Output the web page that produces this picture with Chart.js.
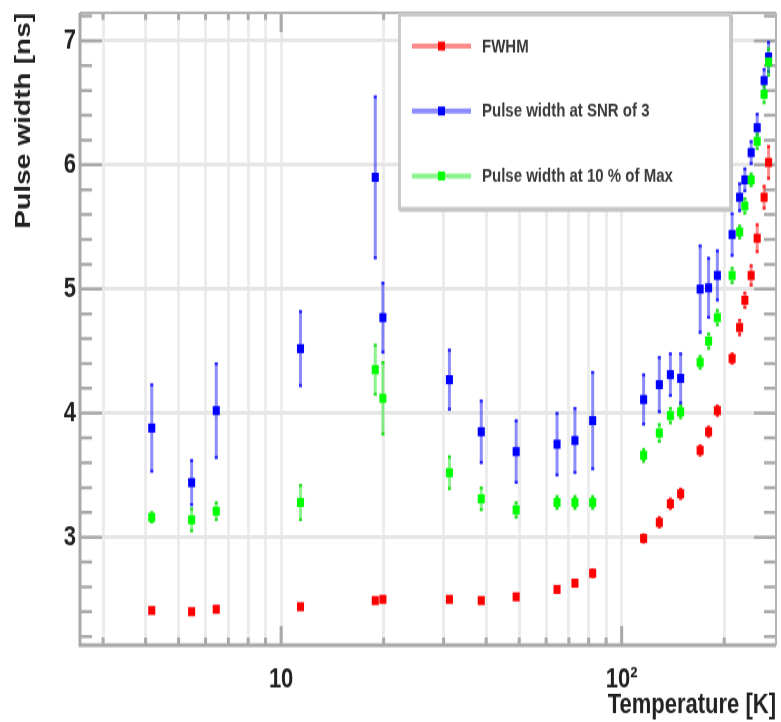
<!DOCTYPE html>
<html>
<head>
<meta charset="utf-8">
<title>Pulse width vs temperature</title>
<script src="https://cdn.jsdelivr.net/npm/chart.js@4/dist/chart.umd.min.js"></script>
<style>
  html, body { margin: 0; padding: 0; background: #fff; }
  body { width: 781px; height: 722px; }
  /* the plot is laid out on a 781x564 canvas and stretched vertically to 722 px */
  #wrap { width: 781px; height: 564px; transform: scaleY(1.28014); transform-origin: 0 0; }
  canvas { display: block; }
</style>
</head>
<body>
<div id="wrap"><canvas id="c" width="781" height="564"></canvas></div>
<script>
// Temperatures of the measurements [K]
const temperatures = [4.17, 5.46, 6.45, 11.4, 18.9, 19.9, 31.2, 38.7, 49.0, 64.6, 72.9, 82.2,
                      116, 129, 139, 149, 170, 180, 191, 211, 222, 230, 240, 250, 262, 270];

// FWHM [ns]
const fwhm    = [2.41, 2.40, 2.42, 2.44, 2.49, 2.50, 2.50, 2.49, 2.52, 2.58, 2.63, 2.71,
                 2.99, 3.12, 3.27, 3.35, 3.70, 3.85, 4.02, 4.44, 4.69, 4.91, 5.11, 5.41, 5.74, 6.02];
const fwhmErr = [0.03, 0.03, 0.03, 0.03, 0.03, 0.03, 0.03, 0.03, 0.03, 0.03, 0.03, 0.04,
                 0.04, 0.05, 0.05, 0.05, 0.05, 0.05, 0.05, 0.05, 0.07, 0.07, 0.09, 0.12, 0.10, 0.14];

// Pulse width at SNR of 3 [ns]
const snr3    = [3.88, 3.44, 4.02, 4.52, 5.90, 4.77, 4.27, 3.85, 3.69, 3.75, 3.78, 3.94,
                 4.11, 4.23, 4.31, 4.28, 5.00, 5.01, 5.11, 5.44, 5.74, 5.88, 6.10, 6.30, 6.68, 6.87];
const snr3Err = [0.36, 0.19, 0.39, 0.31, 0.66, 0.29, 0.25, 0.26, 0.26, 0.26, 0.27, 0.40,
                 0.21, 0.23, 0.18, 0.21, 0.36, 0.25, 0.21, 0.18, 0.12, 0.10, 0.10, 0.12, 0.10, 0.13];

// Pulse width at 10 % of the maximum [ns]
const tenPct    = [3.16, 3.14, 3.21, 3.28, 4.35, 4.12, 3.52, 3.31, 3.22, 3.28, 3.28, 3.28,
                   3.66, 3.84, 3.98, 4.01, 4.41, 4.58, 4.77, 5.11, 5.46, 5.67, 5.88, 6.19, 6.57, 6.83];
const tenPctErr = [0.05, 0.10, 0.08, 0.15, 0.21, 0.30, 0.14, 0.10, 0.07, 0.06, 0.06, 0.06,
                   0.06, 0.08, 0.07, 0.06, 0.06, 0.07, 0.07, 0.07, 0.06, 0.07, 0.06, 0.07, 0.08, 0.12];

const seriesNames = ['FWHM', 'Pulse width at SNR of 3', 'Pulse width at 10 % of Max'];

// Axis ticks
const xTicks = [3, 4, 5, 6, 7, 8, 9, 10, 20, 30, 40, 50, 60, 70, 80, 90, 100, 200];
const xMajor = [10, 100];
const xTickLabels = ['10', '10²'];
const yTicks = [2.2, 2.4, 2.6, 2.8, 3.0, 3.2, 3.4, 3.6, 3.8, 4.0, 4.2, 4.4, 4.6, 4.8,
                5.0, 5.2, 5.4, 5.6, 5.8, 6.0, 6.2, 6.4, 6.6, 6.8, 7.0, 7.2];
const yTickLabels = ['3', '4', '5', '6', '7'];

const FONT = "'Liberation Sans', Arial, Helvetica, sans-serif";
const isWhole = v => Math.abs(v - Math.round(v)) < 1e-6;

function points(values) {
  return temperatures.map((t, i) => ({ x: t, y: values[i] }));
}

// vertical error bars, drawn under the markers
const errorBars = {
  id: 'errorBars',
  beforeDatasetsDraw(chart) {
    const ctx = chart.ctx;
    const ys = chart.scales.y;
    ctx.save();
    chart.data.datasets.forEach((ds, di) => {
      const meta = chart.getDatasetMeta(di);
      meta.data.forEach((el, i) => {
        const v = ds.data[i].y, e = ds.errors[i];
        const top = ys.getPixelForValue(v + e);
        const bot = ys.getPixelForValue(v - e);
        ctx.strokeStyle = ds.barColor;
        ctx.lineWidth = 3;
        ctx.beginPath();
        ctx.moveTo(el.x, top);
        ctx.lineTo(el.x, bot);
        ctx.stroke();
        ctx.fillStyle = ds.capColor;
        ctx.fillRect(el.x - 1.5, top, 3, 2.5);
        ctx.fillRect(el.x - 1.5, bot - 2.5, 3, 2.5);
      });
    });
    ctx.restore();
  }
};

// frame lines and inward tick marks on all four sides
const frame = {
  id: 'frame',
  beforeDatasetsDraw(chart) {
    const { ctx, chartArea: a, scales: { x, y } } = chart;
    ctx.save();
    ctx.strokeStyle = '#a9a9a9';
    ctx.lineWidth = 3;
    xTicks.forEach(v => {
      const px = x.getPixelForValue(v);
      const big = xMajor.includes(v);
      const lb = big ? 15 : 6, lt = big ? 15 : 5.5;
      ctx.beginPath();
      ctx.moveTo(px, a.bottom); ctx.lineTo(px, a.bottom - lb);
      ctx.moveTo(px, a.top); ctx.lineTo(px, a.top + lt);
      ctx.stroke();
    });
    ctx.lineWidth = 2.5;
    yTicks.forEach(v => {
      const py = y.getPixelForValue(v);
      const len = isWhole(v) ? 22 : 12;
      ctx.beginPath();
      ctx.moveTo(a.left, py); ctx.lineTo(a.left + len, py);
      ctx.moveTo(a.right, py); ctx.lineTo(a.right - len, py);
      ctx.stroke();
    });
    // frame
    ctx.lineWidth = 3;
    ctx.strokeStyle = '#a9a9a9';
    ctx.beginPath();
    ctx.moveTo(a.left, a.top); ctx.lineTo(a.left, a.bottom);
    ctx.moveTo(a.left - 1.5, a.bottom); ctx.lineTo(a.right, a.bottom);
    ctx.stroke();
    ctx.lineWidth = 2;
    ctx.strokeStyle = '#b3b3b3';
    ctx.beginPath();
    ctx.moveTo(a.left, a.top); ctx.lineTo(a.right, a.top);
    ctx.moveTo(a.right, a.top); ctx.lineTo(a.right, a.bottom);
    ctx.stroke();
    ctx.restore();
  }
};

// boxed legend in the upper part of the frame
const legendBox = {
  id: 'legendBox',
  afterDatasetsDraw(chart) {
    const ctx = chart.ctx;
    const bx = 399.5, by = 11.5, bw = 331, bh = 151.5;
    ctx.save();
    ctx.fillStyle = '#ffffff';
    ctx.fillRect(bx, by, bw, bh);
    ctx.strokeStyle = '#cacaca';
    ctx.lineWidth = 3;
    ctx.strokeRect(bx, by, bw, bh);
    ctx.strokeStyle = '#c4c4c4';
    ctx.lineWidth = 2;
    ctx.beginPath();
    ctx.moveTo(bx, by + bh + 1.5); ctx.lineTo(bx + bw + 1.5, by + bh + 1.5);
    ctx.lineTo(bx + bw + 1.5, by);
    ctx.stroke();
    const rows = [36, 86.7, 137.5];
    chart.data.datasets.forEach((ds, i) => {
      const yy = rows[i];
      ctx.strokeStyle = ds.barColor;
      ctx.lineWidth = 4;
      ctx.beginPath();
      ctx.moveTo(412, yy); ctx.lineTo(471, yy);
      ctx.stroke();
      ctx.fillStyle = ds.backgroundColor;
      ctx.fillRect(441.5 - 3.5, yy - 3.5, 7, 7);
      ctx.fillStyle = '#3a3a3a';
      ctx.font = 'bold 15px ' + FONT;
      ctx.textAlign = 'left';
      ctx.textBaseline = 'middle';
      ctx.fillText(ds.label, 482, yy + 0.5);
    });
    ctx.restore();
  }
};

function series(label, values, errors, solid, bar, cap, order) {
  return {
    label, data: points(values), errors,
    backgroundColor: solid, borderColor: solid,
    barColor: bar, capColor: cap,
    pointStyle: 'rect', pointRadius: 5, pointBorderWidth: 0,
    pointHoverRadius: 5, showLine: false, order
  };
}

new Chart(document.getElementById('c'), {
  type: 'scatter',
  data: {
    datasets: [
      series(seriesNames[0], fwhm, fwhmErr, '#ff0000', 'rgba(255,0,0,0.45)', 'rgba(255,0,0,0.7)', 2),
      series(seriesNames[1], snr3, snr3Err, '#0000ff', 'rgba(0,0,255,0.45)', 'rgba(0,0,255,0.7)', 1),
      series(seriesNames[2], tenPct, tenPctErr, '#00ff00', 'rgba(0,230,0,0.45)', 'rgba(0,220,0,0.7)', 0)
    ]
  },
  options: {
    responsive: false,
    animation: false,
    devicePixelRatio: 1,
    layout: { padding: { top: 10, right: 2, left: 0, bottom: 0 } },
    plugins: { legend: { display: false }, tooltip: { enabled: false } },
    scales: {
      x: {
        type: 'logarithmic',
        min: 2.567, max: 283.9,
        afterBuildTicks: s => { s.ticks = xTicks.map(v => ({ value: v, major: xMajor.includes(v) })); },
        afterFit: s => { s.height = 60; s.paddingLeft = 0; s.paddingRight = 0; },
        grid: { drawTicks: false, color: '#ececec', lineWidth: 3 },
        border: { display: false },
        ticks: {
          autoSkip: false, maxRotation: 0, padding: 14,
          callback: v => { const k = xMajor.indexOf(v); return k >= 0 ? xTickLabels[k] : ''; },
          font: { family: FONT, size: 22, weight: 'bold' }, color: '#222'
        },
        title: {
          display: true, text: 'Temperature [K]', align: 'end',
          font: { family: FONT, size: 22, weight: 'bold' }, color: '#222',
          padding: { top: 0, bottom: 0 }
        }
      },
      y: {
        min: 2.13, max: 7.226,
        afterBuildTicks: s => { s.ticks = yTicks.map(v => ({ value: v })); },
        afterFit: s => { s.width = 80; s.paddingTop = 0; s.paddingBottom = 0; },
        grid: {
          drawTicks: false, lineWidth: 3,
          color: c => isWhole(c.tick.value) ? '#e6e6e6' : 'rgba(0,0,0,0)'
        },
        border: { display: false },
        ticks: {
          autoSkip: false, padding: 4,
          callback: v => { const s = String(Math.round(v)); return isWhole(v) && yTickLabels.includes(s) ? s : null; },
          font: { family: FONT, size: 22, weight: 'bold' }, color: '#222'
        },
        title: {
          display: true, text: 'Pulse width [ns]', align: 'end',
          font: { family: FONT, size: 22, weight: 'bold' }, color: '#222',
          padding: { top: 11, bottom: 0 }
        }
      }
    }
  },
  plugins: [frame, errorBars, legendBox]
});
</script>
</body>
</html>
